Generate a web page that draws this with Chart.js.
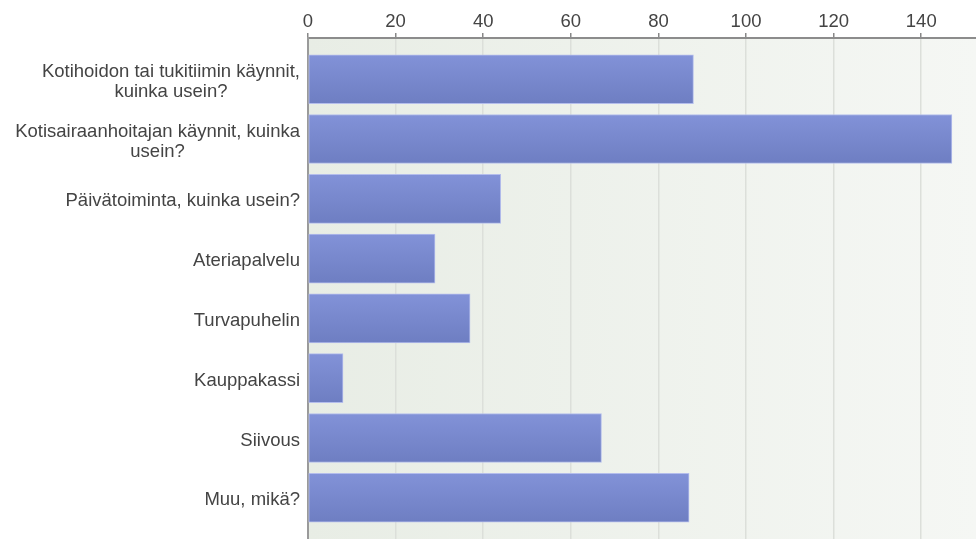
<!DOCTYPE html>
<html lang="fi">
<head>
<meta charset="UTF-8">
<title>Palvelut</title>
<script src="https://cdn.jsdelivr.net/npm/chart.js"></script>
<style>
  html, body { margin: 0; padding: 0; background: #fff; }
  .wrap { width: 976px; height: 539px; position: relative; }
</style>
</head>
<body>
<div class="wrap"><canvas id="kaavio" width="976" height="539"></canvas></div>
<script>
// palvelut ja vastausmäärät
const palvelut = [
  ['Kotihoidon tai tukitiimin käynnit,', 'kuinka usein?'],
  ['Kotisairaanhoitajan käynnit, kuinka', 'usein?'],
  ['Päivätoiminta, kuinka usein?'],
  ['Ateriapalvelu'],
  ['Turvapuhelin'],
  ['Kauppakassi'],
  ['Siivous'],
  ['Muu, mikä?']
];
const maarat = [88, 147, 44, 29, 37, 8, 67, 87];
const xTiksit = [0, 20, 40, 60, 80, 100, 120, 140];

const fontti = 'Liberation Sans, Arial, sans-serif';
const tekstiVari = '#444';

// taustan liukuväri piirtoalueelle
const taustaPlugin = {
  id: 'tausta',
  beforeDraw(chart) {
    const { ctx, chartArea: a } = chart;
    const g = ctx.createLinearGradient(a.left, 0, a.right, 0);
    g.addColorStop(0, '#e8ede5');
    g.addColorStop(1, '#f5f7f4');
    ctx.save();
    ctx.fillStyle = g;
    ctx.fillRect(a.left, a.top, a.right - a.left, a.bottom - a.top);
    ctx.restore();
  }
};

// kategorianimet: lohko oikealle, rivit keskitetysti
const nimiPlugin = {
  id: 'nimet',
  afterDraw(chart) {
    const { ctx } = chart;
    const y = chart.scales.y;
    const oikea = chart.chartArea.left - 8;
    const riviKorkeus = 20;
    ctx.save();
    ctx.font = '18.5px ' + fontti;
    ctx.fillStyle = tekstiVari;
    ctx.textAlign = 'center';
    ctx.textBaseline = 'middle';
    palvelut.forEach((rivit, i) => {
      const leveys = Math.max(...rivit.map(r => ctx.measureText(r).width));
      const keski = oikea - leveys / 2;
      const yc = y.getPixelForValue(i) + 2.5;
      rivit.forEach((r, j) => {
        const yy = yc + (j - (rivit.length - 1) / 2) * riviKorkeus;
        ctx.fillText(r, keski, yy);
      });
    });
    ctx.restore();
  }
};

function palkkiVari(context) {
  const chart = context.chart;
  const y = chart.scales.y;
  if (!chart.chartArea || !y) return '#7888cd';
  const yc = y.getPixelForValue(context.dataIndex);
  const g = chart.ctx.createLinearGradient(0, yc - 24.5, 0, yc + 24.5);
  g.addColorStop(0, '#8292d8');
  g.addColorStop(1, '#6e7ec2');
  return g;
}

new Chart(document.getElementById('kaavio'), {
  type: 'bar',
  data: {
    datasets: [{
      data: maarat.map((v, i) => ({ x: v, y: i })),
      backgroundColor: palkkiVari,
      borderColor: '#b4bdec',
      borderWidth: 1,
      borderSkipped: false,
      barThickness: 49
    }]
  },
  options: {
    indexAxis: 'y',
    responsive: false,
    animation: false,
    devicePixelRatio: 1,
    layout: { padding: 0 },
    plugins: {
      legend: { display: false },
      tooltip: { enabled: false }
    },
    scales: {
      x: {
        type: 'linear',
        position: 'top',
        min: 0,
        max: 152.5,
        afterBuildTicks: (s) => { s.ticks = xTiksit.map(v => ({ value: v })); },
        afterFit: (s) => { s.height = 38; },
        ticks: {
          stepSize: 20,
          includeBounds: false,
          color: tekstiVari,
          font: { family: fontti, size: 18.5 },
          padding: 0,
          maxRotation: 0
        },
        grid: {
          color: '#dcdfda',
          lineWidth: 1.5,
          tickLength: 5,
          tickColor: '#888',
          tickWidth: 1.5
        },
        border: { display: true, color: '#8c8c8c', width: 2 }
      },
      y: {
        type: 'linear',
        reverse: true,
        offset: false,
        min: -0.69,
        max: 7.69,
        afterFit: (s) => { s.width = 308; },
        ticks: { display: false, stepSize: 1 },
        grid: { display: false, drawTicks: false, offset: false },
        border: { display: true, color: '#9a9a9a', width: 2 }
      }
    }
  },
  plugins: [taustaPlugin, nimiPlugin]
});
</script>
</body>
</html>
